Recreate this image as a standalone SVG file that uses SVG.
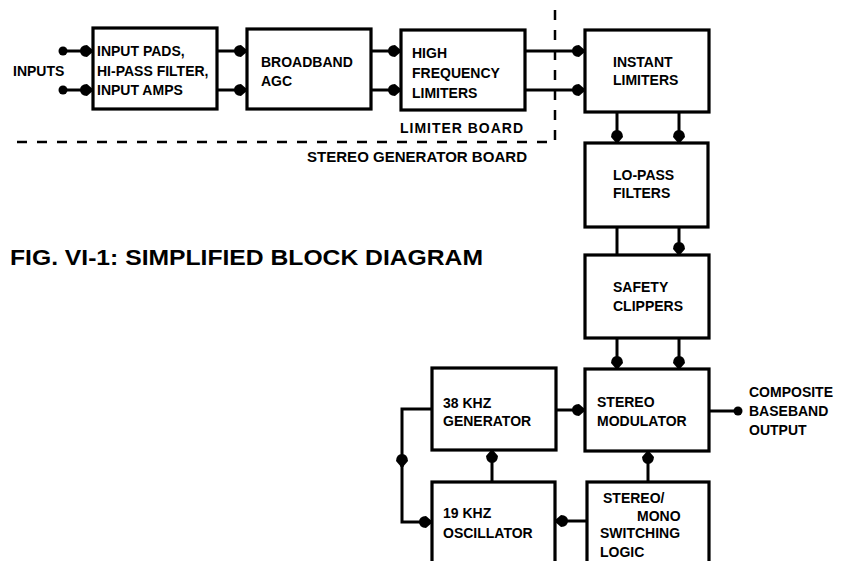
<svg xmlns="http://www.w3.org/2000/svg" width="844" height="561" viewBox="0 0 844 561">
<style>
.box{fill:#fff;stroke:#000;stroke-width:3.2}
.ln{fill:none;stroke:#000;stroke-width:3}
.dash{fill:none;stroke:#000;stroke-width:2.5;stroke-dasharray:10 10}
text{font-family:"Liberation Sans",Arial,sans-serif;font-weight:bold;font-size:14px;fill:#000}
.title{font-size:22px}
</style>
<defs>
<marker id="ah" markerUnits="userSpaceOnUse" markerWidth="16" markerHeight="14" viewBox="-14 -7 16 14" refX="0" refY="0" orient="auto">
<path d="M1 0 L-6 -6 Q-13 -5.5 -13 0 Q-13 5.5 -6 6 Z" fill="#000"/>
</marker>
</defs>
<rect width="844" height="561" fill="#fff"/>

<g id="boundaries">
<path class="dash" d="M555 10 V142 H10"/>
<text x="400" y="133" textLength="123" lengthAdjust="spacing">LIMITER  BOARD</text>
<text x="307" y="162" textLength="220" lengthAdjust="spacingAndGlyphs">STEREO GENERATOR BOARD</text>
</g>

<g id="connectors">
<circle cx="63" cy="51" r="4.5"/>
<circle cx="63" cy="90" r="4.5"/>
<path class="ln" d="M63 51 H93" marker-end="url(#ah)"/>
<path class="ln" d="M63 90 H93" marker-end="url(#ah)"/>
<path class="ln" d="M217 51 H247" marker-end="url(#ah)"/>
<path class="ln" d="M217 90 H247" marker-end="url(#ah)"/>
<path class="ln" d="M371 51 H401" marker-end="url(#ah)"/>
<path class="ln" d="M371 90 H401" marker-end="url(#ah)"/>
<path class="ln" d="M525 51 H585" marker-end="url(#ah)"/>
<path class="ln" d="M525 90 H585" marker-end="url(#ah)"/>
<path class="ln" d="M617 112 V143" marker-end="url(#ah)"/>
<path class="ln" d="M679 112 V143" marker-end="url(#ah)"/>
<path class="ln" d="M617 227 V255"/>
<path class="ln" d="M679 227 V255" marker-end="url(#ah)"/>
<path class="ln" d="M617 338 V369" marker-end="url(#ah)"/>
<path class="ln" d="M679 338 V369" marker-end="url(#ah)"/>
<path class="ln" d="M709 411 H738"/>
<circle cx="738" cy="411" r="4.5"/>
<path class="ln" d="M556 410 H585" marker-end="url(#ah)"/>
<path class="ln" d="M492 482 V450" marker-end="url(#ah)"/>
<path class="ln" d="M648 482 V451" marker-end="url(#ah)"/>
<path class="ln" d="M587 521 H555" marker-end="url(#ah)"/>
<path class="ln" d="M432 409 H402 V467" marker-end="url(#ah)"/>
<path class="ln" d="M402 460 V522 H432" marker-end="url(#ah)"/>
</g>

<g id="inputs">
<text x="13" y="76">INPUTS</text>
</g>

<g id="input-pads">
<rect class="box" x="93" y="28" width="124" height="81"/>
<text x="97" y="56">INPUT PADS,</text>
<text x="97" y="76">HI-PASS FILTER,</text>
<text x="97" y="95">INPUT AMPS</text>
</g>

<g id="broadband-agc">
<rect class="box" x="247" y="29" width="124" height="80"/>
<text x="261" y="67">BROADBAND</text>
<text x="261" y="86">AGC</text>
</g>

<g id="hf-limiters">
<rect class="box" x="401" y="30" width="124" height="80"/>
<text x="412" y="58">HIGH</text>
<text x="412" y="78">FREQUENCY</text>
<text x="412" y="98">LIMITERS</text>
</g>

<g id="instant-limiters">
<rect class="box" x="585" y="30" width="124" height="82"/>
<text x="613" y="67">INSTANT</text>
<text x="613" y="85">LIMITERS</text>
</g>

<g id="lo-pass">
<rect class="box" x="585" y="143" width="123" height="84"/>
<text x="613" y="180">LO-PASS</text>
<text x="613" y="198">FILTERS</text>
</g>

<g id="safety-clippers">
<rect class="box" x="585" y="255" width="124" height="83"/>
<text x="613" y="292">SAFETY</text>
<text x="613" y="311">CLIPPERS</text>
</g>

<g id="stereo-modulator">
<rect class="box" x="585" y="369" width="124" height="82"/>
<text x="597" y="407">STEREO</text>
<text x="597" y="426">MODULATOR</text>
</g>

<g id="output">
<text x="749" y="397">COMPOSITE</text>
<text x="749" y="416">BASEBAND</text>
<text x="749" y="435">OUTPUT</text>
</g>

<g id="gen-38k">
<rect class="box" x="432" y="368" width="124" height="82"/>
<text x="443" y="408">38 KHZ</text>
<text x="443" y="426">GENERATOR</text>
</g>

<g id="osc-19k">
<rect class="box" x="432" y="482" width="123" height="90"/>
<text x="443" y="518">19 KHZ</text>
<text x="443" y="538">OSCILLATOR</text>
</g>

<g id="switching-logic">
<rect class="box" x="587" y="482" width="122" height="90"/>
<text x="603" y="503">STEREO/</text>
<text x="637" y="521">MONO</text>
<text x="600" y="538">SWITCHING</text>
<text x="600" y="557">LOGIC</text>
</g>

<g id="title">
<text class="title" x="10" y="265" textLength="473" lengthAdjust="spacingAndGlyphs">FIG. VI-1: SIMPLIFIED BLOCK DIAGRAM</text>
</g>
</svg>
